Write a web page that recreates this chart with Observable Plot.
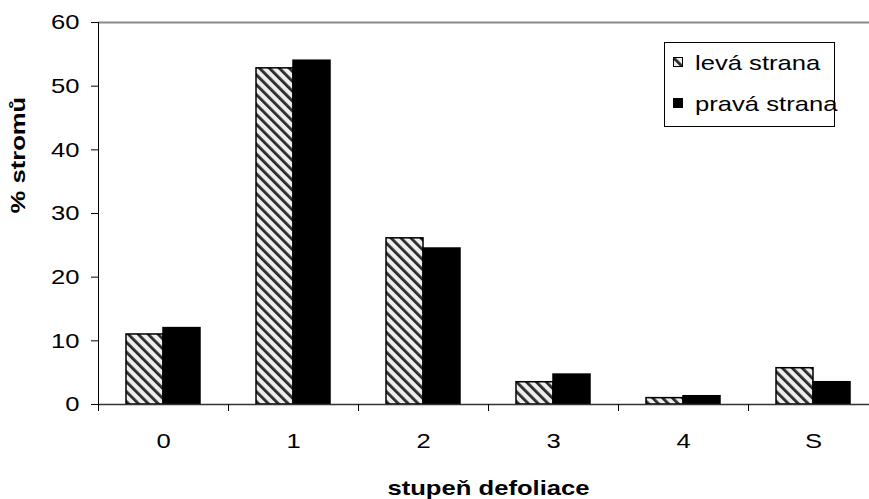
<!DOCTYPE html>
<html><head><meta charset="utf-8">
<script src="https://cdn.jsdelivr.net/npm/d3@7"></script>
<script src="https://cdn.jsdelivr.net/npm/@observablehq/plot@0.6"></script>
<style>
html,body{margin:0;padding:0;background:#fff;overflow:hidden;}
#chart{position:relative;width:869px;height:499px;overflow:hidden;}
#chart svg{max-width:none !important;}
</style></head><body><div id="chart"></div>
<script>
const categories = ["0", "1", "2", "3", "4", "S"];
const series = ["levá strana", "pravá strana"];
const leftValues = [11.0, 52.8, 26.1, 3.5, 1.0, 5.7];
const rightValues = [12.0, 54.0, 24.5, 4.7, 1.3, 3.5];
const yTicks = [0, 10, 20, 30, 40, 50, 60];
const xTitle = "stupeň defoliace";
const yTitle = "% stromů";

const data = categories.flatMap((c, i) => [
  {category: c, side: series[0], value: leftValues[i]},
  {category: c, side: series[1], value: rightValues[i]}
]);

const FONT = "'Liberation Sans', Arial, sans-serif";
const STRETCH = 1.22;

const chart = Plot.plot({
  width: 878, height: 499,
  marginLeft: 98, marginRight: 0, marginTop: 22, marginBottom: 95,
  style: {fontFamily: FONT, fontSize: "21px", color: "#000", background: "#fff", overflow: "visible", maxWidth: "none"},
  fx: {domain: categories, padding: 0, label: null},
  x: {domain: series, paddingInner: 0, paddingOuter: 0.733, axis: null},
  y: {domain: [0, 60], label: null},
  color: {domain: series, range: ["url(#hatch)", "#000"]},
  marks: [
    Plot.ruleY([60], {stroke: "#8a8a8a", strokeWidth: 2}),
    Plot.barY(data, {fx: "category", x: "side", y: "value", fill: "side", stroke: "#000", strokeWidth: 1.5}),
    Plot.ruleY([0], {stroke: "#333", strokeWidth: 1.5}),
    Plot.frame({anchor: "left", facet: "super", stroke: "#000"}),
    Plot.axisY({ticks: yTicks, tickSize: 7, tickPadding: 12, label: null, stroke: "#000"}),
    Plot.axisFx({anchor: "bottom", tickSize: 7, tickFormat: () => "", dx: -65, label: null, stroke: "#000"}),
    Plot.axisFx({anchor: "bottom", tickSize: 0, tickPadding: 29, label: null}),
    Plot.text([xTitle], {facet: "super", frameAnchor: "bottom", lineAnchor: "middle", dy: 84, fontWeight: "bold", fontSize: 21}),
    Plot.text([yTitle], {facet: "super", frameAnchor: "left", lineAnchor: "middle", rotate: -90, dx: -80, fontWeight: "bold", fontSize: 21})
  ]
});

const svg = d3.select(chart);
const defs = svg.insert("defs", ":first-child");
const pat = defs.append("pattern")
  .attr("id", "hatch").attr("patternUnits", "userSpaceOnUse")
  .attr("width", 7).attr("height", 7)
  .attr("patternTransform", "rotate(-45)");
pat.append("rect").attr("width", 7).attr("height", 7).attr("fill", "#eeeeee");
pat.append("rect").attr("width", 2.8).attr("height", 7).attr("fill", "#2a2a2a");

// legend
const lg = svg.append("g").attr("font-family", FONT).attr("font-size", 21).attr("text-anchor", "start");
lg.append("rect").attr("x", 664.5).attr("y", 42.5).attr("width", 170).attr("height", 84)
  .attr("fill", "#fff").attr("stroke", "#000");
series.forEach((s, i) => {
  const yy = 57 + i * 41;
  lg.append("rect").attr("x", 673.5).attr("y", yy + 0.5).attr("width", 9).attr("height", 9)
    .attr("fill", i === 0 ? "url(#hatch)" : "#000").attr("stroke", "#000");
  lg.append("text").attr("x", 695).attr("y", yy + 13).text(s);
});

document.getElementById("chart").appendChild(chart);

// the reference's lettering is horizontally stretched: widen every label in place
svg.selectAll("text").each(function () {
  const len = this.getComputedTextLength();
  if (len > 0) {
    this.setAttribute("textLength", (len * STRETCH).toFixed(2));
    this.setAttribute("lengthAdjust", "spacingAndGlyphs");
  }
});
</script></body></html>
